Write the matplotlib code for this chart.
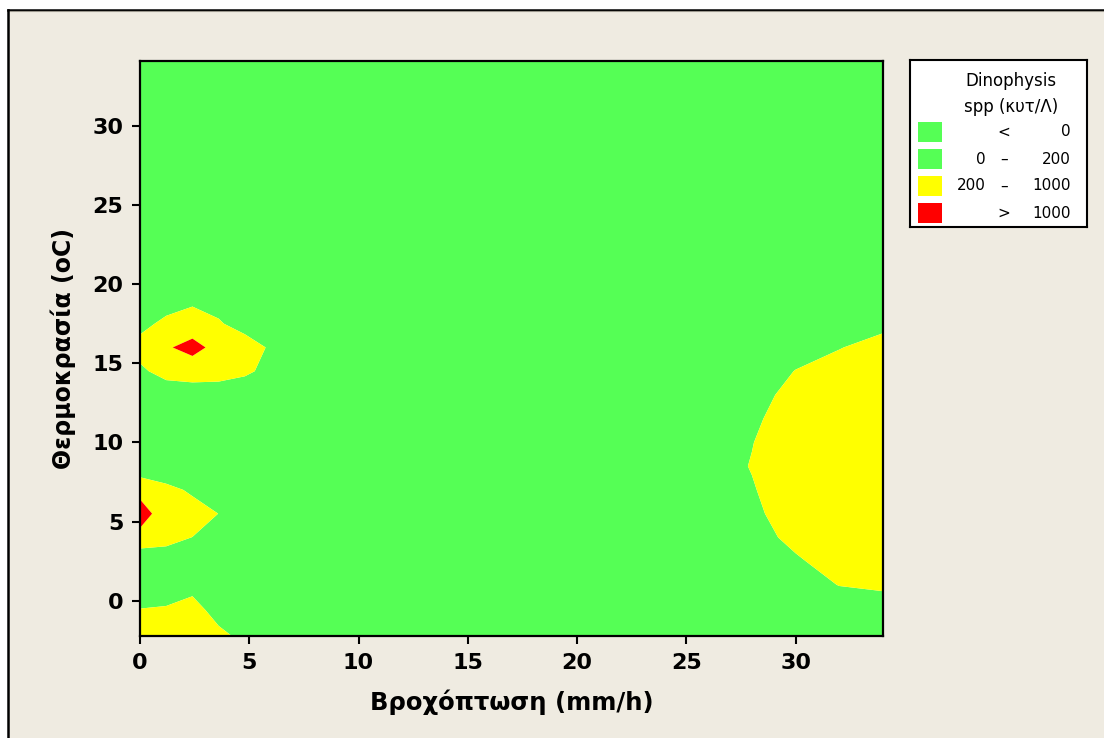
import matplotlib
matplotlib.use("Agg")
import matplotlib.pyplot as plt
from matplotlib.patches import Rectangle
from matplotlib.lines import Line2D
import numpy as np

# ---------------- data ----------------
# grid nodes: rainfall (mm/h) and temperature (oC)
rain = [0, 1.2, 2.4, 3.6, 4.8, 6.0, 8, 12, 16, 20, 24, 26, 28, 30, 32, 34]
temp = [-2.25, -0.6, 1, 2.5, 4, 5.5, 7, 8.5, 10, 11.5, 13, 14.5, 16, 17.5,
        19, 21, 25, 30, 34.2]

# Dinophysis spp (cells/L) on the grid; one row per temperature node
row_m2 = [400, 400, 380, 253, 150, 50, 50, 50, 50, 50, 50, 50, 40, 40, 40, 40]
row_m06 = [210, 230, 280, 120, 50, 50, 50, 50, 50, 50, 50, 50, 50, 70, 90, 80]
row_1 = [50, 50, 135, 50, 50, 50, 50, 50, 50, 50, 50, 50, 60, 120, 205, 240]
row_25 = [-480, 0, 50, 50, 50, 50, 50, 50, 50, 50, 50, 50, 80, 170, 300, 330]
row_4 = [800, 320, 195, 100, 50, 50, 50, 50, 50, 50, 50, 50, 110, 260, 390, 420]
row_55 = [1300, 650, 420, 195, 50, 50, 50, 50, 50, 50, 50, 50, 140, 340, 470, 500]
row_7 = [800, 349, 120, 100, 50, 50, 50, 50, 50, 50, 50, 50, 175, 400, 530, 560]
row_85 = [-325, -224, -50, 0, 50, 50, 50, 50, 50, 50, 50, 50, 215, 420, 560, 600]
row_10 = [50, 50, 50, 50, 50, 50, 50, 50, 50, 50, 50, 50, 190, 400, 540, 580]
row_115 = [50, 50, 50, 50, 50, 50, 50, 50, 50, 50, 50, 50, 150, 340, 490, 540]
row_13 = [80, 100, 110, 110, 90, 50, 50, 50, 50, 50, 50, 50, 120, 270, 410, 470]
row_145 = [170, 260, 280, 270, 230, 150, 50, 50, 50, 50, 50, 50, 95, 205, 300, 380]
row_16 = [260, 870, 1400, 600, 350, 160, 50, 50, 50, 50, 50, 50, 80, 130, 190, 290]
row_175 = [150, 240, 330, 230, 80, 50, 50, 50, 50, 50, 50, 50, 60, 90, 110, 140]
row_19 = [60, 120, 150, 90, 50, 50, 50, 50, 50, 50, 50, 50, 50, 60, 70, 80]
row_21 = [50] * 16
row_25t = [50] * 16
row_30 = [50] * 16
row_34 = [50] * 16

levels = [0, 200, 1000]
level_colors = ["#55FF55", "#55FF55", "#FFFF00", "#FF0000"]
legend_title = "Dinophysis\nspp (κυτ/Λ)"
x_label = "Βροχόπτωση (mm/h)"
y_label = "Θερμοκρασία (oC)"
x_ticks = [0, 5, 10, 15, 20, 25, 30]
y_ticks = [0, 5, 10, 15, 20, 25, 30]

# ---------------- figure ----------------
W, H = 1104, 738
bg = "#EFEBE1"
fig = plt.figure(figsize=(W / 100, H / 100), dpi=100, facecolor="white")
fig.patches.append(Rectangle((8 / W, -0.02), 1.1, (H - 9.5) / H + 0.02,
                             transform=fig.transFigure, facecolor=bg,
                             edgecolor="none", zorder=-5))
fig.lines.append(Line2D([8 / W, 1.0], [(H - 9.5) / H] * 2,
                        transform=fig.transFigure, color="black", lw=1.8))
fig.lines.append(Line2D([8 / W, 1.0], [(H - 11) / H] * 2,
                        transform=fig.transFigure, color="#9A968C", lw=0.8))
fig.lines.append(Line2D([8 / W] * 2, [0, (H - 9.5) / H],
                        transform=fig.transFigure, color="black", lw=1.8))

ax = fig.add_axes([140 / W, (H - 636) / H, (883 - 140) / W, (636 - 61) / H])
Z = np.array([row_m2, row_m06, row_1, row_25, row_4, row_55, row_7, row_85,
              row_10, row_115, row_13, row_145, row_16, row_175, row_19,
              row_21, row_25t, row_30, row_34], dtype=float)
# the "< 0" and "0 - 200" classes share one colour, so fill them as one band
fill_bounds = [-1e5] + levels[1:] + [1e5]
fill_colors = level_colors[1:]
ax.contourf(rain, temp, Z, levels=fill_bounds, colors=fill_colors,
            antialiased=True)

ax.set_xlim(0, 34.0)
ax.set_ylim(-2.23, 34.1)
ax.set_xticks(x_ticks)
ax.set_yticks(y_ticks)
for s in ax.spines.values():
    s.set_linewidth(1.6)
    s.set_color("black")
ax.tick_params(direction="out", length=6, width=1.5, colors="black",
               labelsize=16, pad=6)
for lab in ax.get_xticklabels() + ax.get_yticklabels():
    lab.set_fontweight("bold")
ax.set_xlabel(x_label, fontsize=17.5, fontweight="bold", labelpad=12)
ax.set_ylabel(y_label, fontsize=17, fontweight="bold", labelpad=12)

# ---------------- legend ----------------
lx0, ly0, lx1, ly1 = 910, 60, 1087, 227
lax = fig.add_axes([lx0 / W, (H - ly1) / H, (lx1 - lx0) / W, (ly1 - ly0) / H])
lax.set_xlim(lx0, lx1)
lax.set_ylim(ly1, ly0)
lax.set_facecolor("white")
for s in lax.spines.values():
    s.set_linewidth(1.5)
    s.set_color("black")
lax.set_xticks([])
lax.set_yticks([])
lax.text(1011, 94, legend_title, ha="center", va="center", fontsize=12,
         linespacing=1.6)
row_labels = [("", "<", f"{levels[0]}")]
for a, b in zip(levels[:-1], levels[1:]):
    row_labels.append((f"{a}", "–", f"{b}"))
row_labels.append(("", ">", f"{levels[-1]}"))
for i, (c, (a, m, b)) in enumerate(zip(level_colors, row_labels)):
    yc = 132 + i * 27
    lax.add_patch(Rectangle((918, yc - 10), 24, 20, facecolor=c,
                            edgecolor="none"))
    if a:
        lax.text(986, yc, a, ha="right", va="center", fontsize=11)
    lax.text(1004, yc, m, ha="center", va="center", fontsize=11)
    lax.text(1071, yc, b, ha="right", va="center", fontsize=11)

fig.savefig("out.png", dpi=100, facecolor=fig.get_facecolor())
